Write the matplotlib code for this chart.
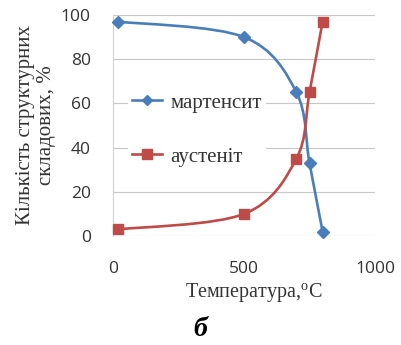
import matplotlib
matplotlib.use("Agg")
import matplotlib.pyplot as plt
from matplotlib.path import Path
from matplotlib.patches import PathPatch
from matplotlib.lines import Line2D
import numpy as np

plt.rcParams['mathtext.fontset'] = 'custom'
plt.rcParams['mathtext.rm'] = 'Liberation Serif'

temperature = [20, 500, 700, 750, 800]
martensite = [97, 90, 65, 33, 2]
austenite = [3, 10, 35, 65, 97]
labels = ["мартенсит", "аустеніт"]
colors = ["#4A7EBB", "#BE4B48"]
markers = ["D", "s"]
x_ticks = [0, 500, 1000]
y_ticks = [0, 20, 40, 60, 80, 100]

fig = plt.figure(figsize=(4.01, 3.45), dpi=100)
ax = fig.add_axes([113/401, 1-236/345, 262/401, 221/345])
ax.set_xlim(0, 1000)
ax.set_ylim(0, 100)


def smooth_path(xs, ys):
    pts = np.column_stack([xs, ys]).astype(float)
    n = len(pts)
    verts = [pts[0]]
    codes = [Path.MOVETO]
    for i in range(n - 1):
        p0 = pts[max(i - 1, 0)]
        p1 = pts[i]
        p2 = pts[i + 1]
        p3 = pts[min(i + 2, n - 1)]
        c1 = p1 + (p2 - p0) / 6.0
        c2 = p2 - (p3 - p1) / 6.0
        verts += [c1, c2, p2]
        codes += [Path.CURVE4] * 3
    return Path(verts, codes)


handles = []
for ys, c, m, lab in zip([martensite, austenite], colors, markers, labels):
    patch = PathPatch(smooth_path(temperature, ys), facecolor='none',
                      edgecolor=c, lw=1.9, zorder=3, clip_on=False)
    ax.add_patch(patch)
    ms = 6.5 if m == 'D' else 7.5
    ax.plot(temperature, ys, linestyle='none', marker=m, ms=ms, color=c,
            mec=c, zorder=4, clip_on=False)
    handles.append(Line2D([], [], color=c, lw=1.9, marker=m, ms=ms - 1, mec=c))

ax.set_xticks(x_ticks)
ax.set_yticks(y_ticks)
ax.grid(axis='y', color='#C8C8C8', lw=0.8)
ax.set_axisbelow(True)
for s in ['top', 'right', 'bottom']:
    ax.spines[s].set_visible(False)
ax.spines['left'].set_color('#D0D0D0')
ax.spines['left'].set_linewidth(0.8)
ax.tick_params(length=0)
ax.tick_params(axis='y', pad=16, labelsize=12.5, labelcolor='#333333')
ax.tick_params(axis='x', pad=18, labelsize=12.5, labelcolor='#333333')
for t in ax.get_xticklabels() + ax.get_yticklabels():
    t.set_fontfamily('Open Sans')

ax.set_xlabel(r"Температура,$^{\mathrm{o}}$C", family='Liberation Serif',
              fontsize=14.5, color='#333333')
ax.xaxis.set_label_coords((254 - 113) / 262, (236 - 293) / 221)
ax.xaxis.label.set_va('center')
ax.set_ylabel("Кількість структурних\nскладових, %", family='Liberation Serif',
              fontsize=15, color='#333333', linespacing=1.15)
ax.yaxis.set_label_coords((36 - 113) / 262, 0.5)
ax.yaxis.label.set_va('center')

leg = ax.legend(handles, labels, loc='center left', bbox_to_anchor=(0.057, 0.48),
                frameon=True, framealpha=1, edgecolor='none', facecolor='white',
                prop={'family': 'Liberation Serif', 'size': 15},
                handlelength=1.45, handletextpad=0.4, labelspacing=1.65,
                borderpad=0.2, borderaxespad=0, fancybox=False)
for t in leg.get_texts():
    t.set_color('#333333')
    t.set_fontfamily('Liberation Serif')

fig.text(200/401, 1-330/345, "б", family='Liberation Serif', fontsize=20,
         fontweight='bold', fontstyle='italic', ha='center', va='center')

fig.savefig("out.png", dpi=100)
